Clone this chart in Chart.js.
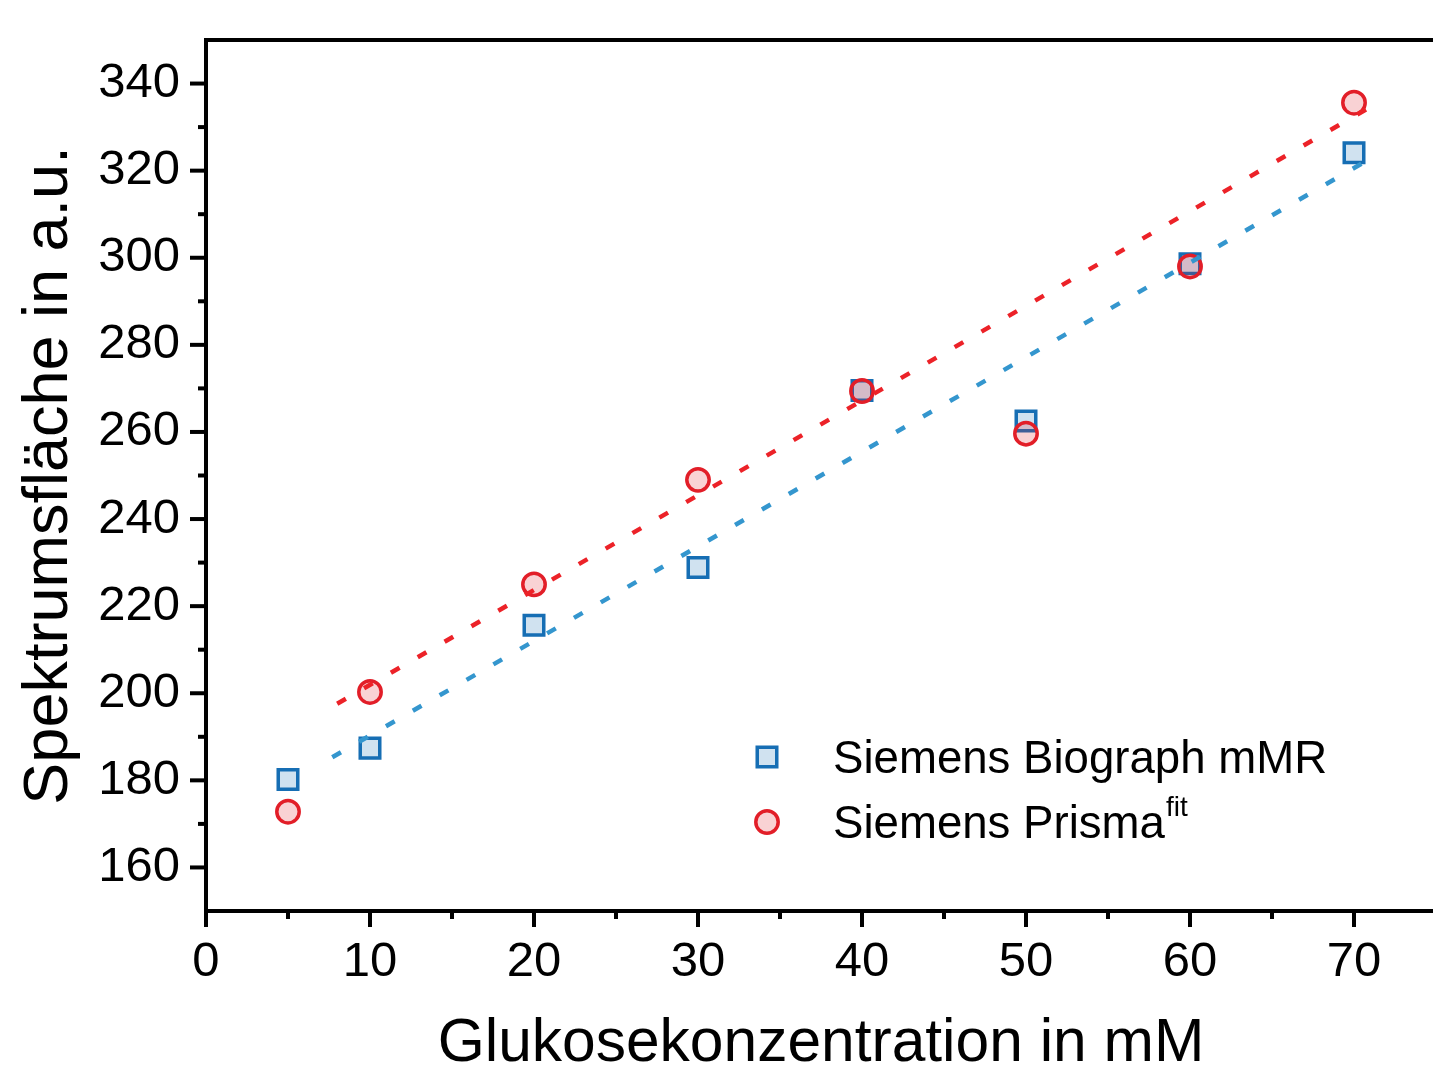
<!DOCTYPE html>
<html>
<head>
<meta charset="utf-8">
<script src="https://cdn.jsdelivr.net/npm/chart.js@4.4.1/dist/chart.umd.min.js"></script>
<style>
  html, body { margin: 0; padding: 0; overflow: hidden; background: #fff; }
  #wrap { width: 1436px; height: 1070px; }
</style>
</head>
<body>
<div id="wrap"><canvas id="chart" width="1436" height="1070"></canvas></div>
<script>
// Glukosekonzentration (mM)
const concentrations = [5, 10, 20, 30, 40, 50, 60, 70];
// Spektrumsfläche (a.u.)
const biographArea = [180.2, 187.4, 215.6, 228.9, 269.5, 262.5, 298.6, 324.1];
const prismaArea = [172.8, 200.3, 225.0, 249.0, 269.4, 259.6, 298.0, 335.6];
// dotted fit lines, end points
const biographFitX = [7.7, 70.6];
const biographFitY = [185.3, 321.9];
const prismaFitX = [8.0, 70.9];
const prismaFitY = [197.6, 334.4];

const xTickValues = [0, 10, 20, 30, 40, 50, 60, 70];
const yTickValues = [160, 180, 200, 220, 240, 260, 280, 300, 320, 340];

const FONT = '"Liberation Sans", Arial, sans-serif';
const blue = 'rgb(22,110,180)';
const blueFill = 'rgba(22,110,180,0.2)';
const red = 'rgb(226,30,40)';
const redFill = 'rgba(226,30,40,0.2)';

const pts = (xs, ys) => xs.map((x, i) => ({ x: x, y: ys[i] }));

// outward major/minor tick marks + top frame line
const tickMarks = {
  id: 'tickMarks',
  afterDraw(chart) {
    const { ctx, chartArea: a, scales: { x, y } } = chart;
    ctx.save();
    ctx.strokeStyle = '#000';
    ctx.lineWidth = 4;
    for (let v = 0; v <= 75; v += 5) {
      const px = x.getPixelForValue(v);
      const len = v % 10 === 0 ? 16 : 8;
      ctx.beginPath();
      ctx.moveTo(px, a.bottom);
      ctx.lineTo(px, a.bottom + len);
      ctx.stroke();
    }
    for (let v = 160; v <= 340; v += 10) {
      const py = y.getPixelForValue(v);
      const len = v % 20 === 0 ? 16 : 8;
      ctx.beginPath();
      ctx.moveTo(a.left, py);
      ctx.lineTo(a.left - len, py);
      ctx.stroke();
    }
    ctx.beginPath();
    ctx.moveTo(a.left - 2, a.top);
    ctx.lineTo(a.right, a.top);
    ctx.stroke();
    ctx.restore();
  }
};

// legend inside the plot, with superscript "fit"
const legendBox = {
  id: 'legendBox',
  afterDraw(chart) {
    const ctx = chart.ctx;
    const mx = 767, tx = 833;
    const rows = [
      { y: 757, style: 'rect', r: 13.8, stroke: blue, fill: blueFill, text: 'Siemens Biograph mMR', sup: '' },
      { y: 822, style: 'circle', r: 11.2, stroke: red, fill: redFill, text: 'Siemens Prisma', sup: 'fit' }
    ];
    ctx.save();
    rows.forEach(row => {
      ctx.fillStyle = row.fill;
      ctx.strokeStyle = row.stroke;
      ctx.lineWidth = 3.5;
      Chart.helpers.drawPoint(ctx, { pointStyle: row.style, radius: row.r, rotation: 0, borderWidth: 3.5 }, mx, row.y);
      ctx.fillStyle = '#000';
      ctx.textBaseline = 'alphabetic';
      ctx.textAlign = 'left';
      ctx.font = '45.6px ' + FONT;
      ctx.fillText(row.text, tx, row.y + 16);
      if (row.sup) {
        const w = ctx.measureText(row.text).width;
        ctx.font = '28px ' + FONT;
        ctx.fillText(row.sup, tx + w + 1, row.y - 6);
      }
    });
    ctx.restore();
  }
};

new Chart(document.getElementById('chart'), {
  type: 'scatter',
  data: {
    datasets: [
      {
        label: 'Prisma fit',
        data: pts(prismaFitX, prismaFitY),
        showLine: true,
        borderColor: 'rgb(236,34,40)',
        borderWidth: 4.5,
        borderDash: [10, 21],
        pointRadius: 0,
        order: 0
      },
      {
        label: 'Biograph fit',
        data: pts(biographFitX, biographFitY),
        showLine: true,
        borderColor: 'rgb(52,150,206)',
        borderWidth: 4.5,
        borderDash: [10, 21],
        pointRadius: 0,
        order: 1
      },
      {
        label: 'Siemens Prisma fit',
        data: pts(concentrations, prismaArea),
        pointStyle: 'circle',
        pointRadius: 11.2,
        borderWidth: 3.5,
        borderColor: red,
        backgroundColor: redFill,
        order: 2
      },
      {
        label: 'Siemens Biograph mMR',
        data: pts(concentrations, biographArea),
        pointStyle: 'rect',
        pointRadius: 13.8,
        borderWidth: 3.5,
        borderColor: blue,
        backgroundColor: blueFill,
        order: 3
      }
    ]
  },
  options: {
    responsive: false,
    animation: false,
    events: [],
    layout: { autoPadding: false, padding: { top: 40, right: 0, bottom: 0, left: 0 } },
    plugins: { legend: { display: false }, tooltip: { enabled: false } },
    scales: {
      x: {
        type: 'linear',
        min: 0,
        max: 75,
        afterBuildTicks: s => { s.ticks = xTickValues.map(v => ({ value: v })); },
        afterFit: s => { s.height = 159; s.paddingLeft = 0; s.paddingRight = 0; },
        grid: { display: false, drawTicks: false },
        border: { display: true, color: '#000', width: 4 },
        ticks: { color: '#000', padding: 22, maxRotation: 0, font: { family: FONT, size: 49 } },
        title: {
          display: true,
          text: 'Glukosekonzentration in mM',
          color: '#000',
          font: { family: FONT, size: 60.5, lineHeight: 0.9 },
          padding: { top: 0, bottom: -2 }
        }
      },
      y: {
        type: 'linear',
        min: 150,
        max: 350,
        afterBuildTicks: s => { s.ticks = yTickValues.map(v => ({ value: v })); },
        afterFit: s => { s.width = 206; s.paddingTop = 0; s.paddingBottom = 0; },
        grid: { display: false, drawTicks: false },
        border: { display: true, color: '#000', width: 4 },
        ticks: { color: '#000', padding: 26, font: { family: FONT, size: 49 } },
        title: {
          display: true,
          text: 'Spektrumsfläche in a.u.',
          color: '#000',
          font: { family: FONT, size: 63 },
          padding: { top: 12, bottom: 0 }
        }
      }
    }
  },
  plugins: [tickMarks, legendBox]
});
</script>
</body>
</html>
